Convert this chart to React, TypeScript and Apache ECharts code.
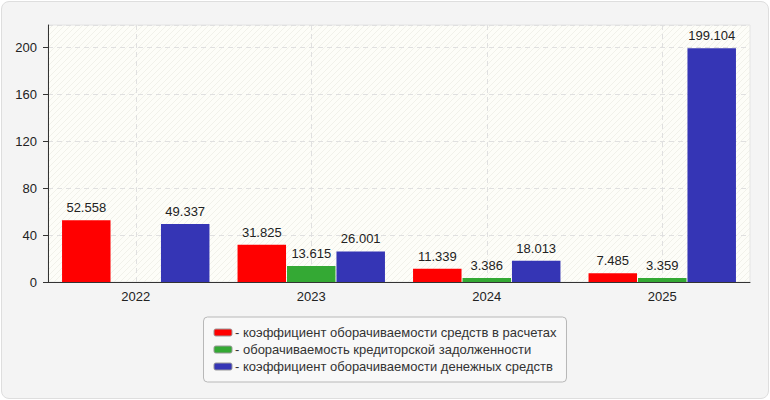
import React, { useEffect, useRef } from "react";
import * as echarts from "echarts";

const categories = ["2022", "2023", "2024", "2025"];
const seriesNames = [
  "- коэффициент оборачиваемости средств в расчетах",
  "- оборачиваемость кредиторской задолженности",
  "- коэффициент оборачиваемости денежных средств",
];
const receivablesTurnover = [52.558, 31.825, 11.339, 7.485];
const payablesTurnover = [null, 13.615, 3.386, 3.359];
const cashTurnover = [49.337, 26.001, 18.013, 199.104];
const seriesColors = ["#ff0000", "#34a934", "#3535b5"];
const yMax = 219;
const yInterval = 40;

function makeHatch(): any {
  const c = document.createElement("canvas");
  c.width = 6;
  c.height = 6;
  const ctx = c.getContext("2d");
  if (ctx) {
    ctx.fillStyle = "#fdfdf8";
    ctx.fillRect(0, 0, 6, 6);
    ctx.strokeStyle = "#f1f1ea";
    ctx.lineWidth = 1;
    ctx.beginPath();
    ctx.moveTo(0, 6);
    ctx.lineTo(6, 0);
    ctx.moveTo(-1, 1);
    ctx.lineTo(1, -1);
    ctx.moveTo(5, 7);
    ctx.lineTo(7, 5);
    ctx.stroke();
  }
  return { image: c, repeat: "repeat" };
}

export default function App() {
  const ref = useRef<HTMLDivElement>(null);
  useEffect(() => {
    document.body.style.margin = "0";
    if (!ref.current) return;
    const chart = echarts.init(ref.current, undefined, { renderer: "svg" });
    const font = "'Liberation Sans', Arial, sans-serif";
    const data = [receivablesTurnover, payablesTurnover, cashTurnover];
    // helper axis: half-step positions so split lines fall on category centres
    const halfSteps: string[] = [];
    for (let i = 0; i <= categories.length * 2; i++) halfSteps.push(String(i));
    chart.setOption({
      animation: false,
      textStyle: { fontFamily: font },
      grid: {
        left: 48,
        right: 20,
        top: 25,
        bottom: 118,
        show: true,
        backgroundColor: makeHatch(),
        borderWidth: 1,
        borderColor: "#e4e4e4",
      },
      legend: {
        orient: "vertical",
        left: "center",
        top: 317,
        padding: [9, 10],
        itemGap: 4,
        itemWidth: 18,
        itemHeight: 7,
        icon: "roundRect",
        backgroundColor: "#f8f8f8",
        borderColor: "#b8b8b8",
        borderWidth: 1,
        borderRadius: 4,
        textStyle: { fontSize: 13, color: "#333", fontFamily: font, padding: [0, 0, 0, -2] },
        itemStyle: { borderColor: "#999", borderWidth: 1 },
        data: seriesNames,
      },
      xAxis: [
        {
          type: "category",
          data: categories,
          axisLine: { lineStyle: { color: "#333" } },
          axisTick: { alignWithLabel: true, length: 5, lineStyle: { color: "#333" } },
          axisLabel: { fontSize: 13, color: "#222", margin: 8 },
          splitLine: { show: false },
        },
        {
          type: "category",
          data: halfSteps,
          boundaryGap: false,
          position: "bottom",
          axisLine: { show: false },
          axisTick: { show: false },
          axisLabel: { show: false },
          splitLine: {
            show: true,
            interval: (idx: number) => idx % 2 === 1,
            lineStyle: { color: "#e0e0e0", type: [5, 4] },
          },
        },
      ],
      yAxis: {
        type: "value",
        min: 0,
        max: yMax,
        interval: yInterval,
        axisLine: { show: true, lineStyle: { color: "#333" } },
        axisTick: { show: true, length: 5, lineStyle: { color: "#333" } },
        axisLabel: { fontSize: 13, color: "#222", margin: 11, showMaxLabel: false },
        splitLine: { show: true, lineStyle: { color: "#e0e0e0", type: [5, 4] } },
      },
      series: data.map((d, i) => ({
        name: seriesNames[i],
        type: "bar",
        xAxisIndex: 0,
        data: d,
        barGap: "2%",
        barCategoryGap: "16%",
        itemStyle: { color: seriesColors[i] },
        label: {
          show: true,
          position: "top",
          distance: 6,
          fontSize: 13,
          color: "#222",
          fontFamily: font,
        },
      })),
    });
    return () => chart.dispose();
  }, []);
  return (
    <div style={{ position: "relative", width: 770, height: 400 }}>
      <div
        style={{
          position: "absolute",
          left: 1,
          top: 1,
          width: 766,
          height: 396,
          border: "1px solid #dedede",
          borderRadius: 8,
          background: "#f4f4f4",
        }}
      />
      <div ref={ref} style={{ position: "absolute", left: 0, top: 0, width: 770, height: 400 }} />
    </div>
  );
}
